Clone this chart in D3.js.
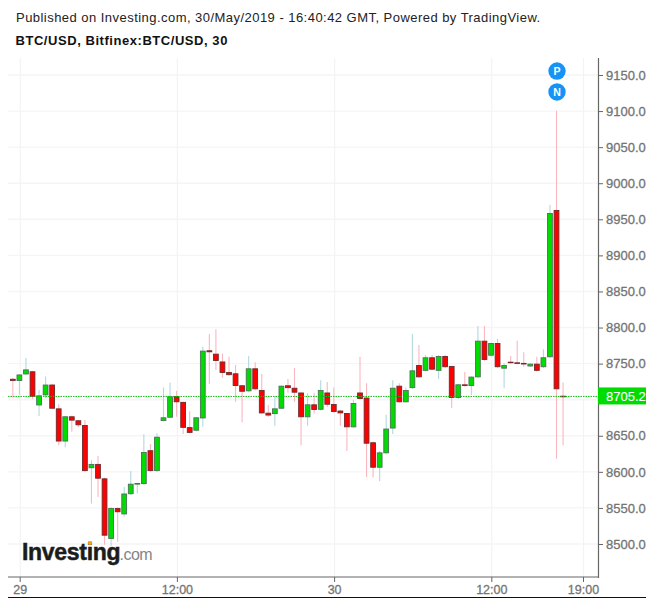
<!DOCTYPE html>
<html><head><meta charset="utf-8">
<script src="https://cdn.jsdelivr.net/npm/d3@7/dist/d3.min.js"></script>
<style>html,body{margin:0;padding:0;background:#fff}svg{display:block}text{font-family:"Liberation Sans",Arial,sans-serif}</style>
</head><body><svg id="c" width="653" height="603"></svg>
<script>
const titleLine = "Published on Investing.com, 30/May/2019 - 16:40:42 GMT, Powered by TradingView.";
const subtitleLine = "BTC/USD, Bitfinex:BTC/USD, 30";
const firstBar = -1; // half-hours after 00:00 on the 29th
const opens = [8729,8726,8735,8739.4,8692,8706,8721,8688,8642,8677,8671.5,8665,8605,8611,8591,8507,8550,8541,8569,8583,8583,8630,8601,8670.5,8675,8705,8697,8662,8657,8674,8768.5,8763.8,8753,8738.4,8736.6,8720,8711.6,8743.5,8713.4,8682,8680,8687.5,8720,8716.6,8710,8675.6,8693.6,8686,8710,8694,8685,8681.6,8661.7,8710,8703,8641,8605.7,8625.7,8660,8719.4,8696.4,8716,8748,8740,8758.8,8740,8760.6,8746.7,8702.4,8721.3,8719,8731,8781.8,8761,8778.6,8743,8752.7,8751.8,8751,8746,8750,8745,8758.8,8963,8705.5];
const highs = [8730,8735,8757.8,8740,8713.4,8732,8722,8694,8677,8678,8672,8672,8616,8622,8592,8551,8551,8579,8601,8585,8652,8638.6,8653.4,8717,8724,8712.5,8697,8684,8676,8773.5,8791,8797.6,8764,8759.6,8748,8720.5,8760.6,8752,8735.6,8692.6,8705,8720,8728.7,8744,8710,8709,8709,8727,8724.5,8717,8686,8682,8699.6,8759.6,8722.7,8642,8629,8679,8727,8722.7,8717,8791,8775.8,8762,8762,8762,8762,8747,8722,8738.4,8732,8802,8802,8779,8784,8751,8760.6,8781.8,8765.7,8750.5,8759.6,8770,8970,9100.5,8724];
const lows = [8702,8706.5,8734,8701,8677.4,8702,8687,8637,8634,8655.6,8662,8600,8556,8565,8499,8497,8503,8538,8568,8570,8582,8600,8600,8670,8675,8676.5,8652.5,8653,8656,8662.6,8721.8,8741,8730.5,8733,8697,8668.7,8711,8713,8680,8676,8664,8687,8709.7,8697,8637,8664,8681,8685,8690,8682,8664,8629,8661,8700,8593,8592,8587,8625,8652.5,8696,8696,8715,8730,8739,8741,8728.7,8744,8688.5,8701,8718,8706.5,8730,8754,8760,8744,8715.8,8750,8750,8745.7,8745,8739,8744,8758,8618,8637];
const closes = [8726,8735,8742,8704,8706,8721,8687.5,8642,8677,8671,8664.5,8601,8611,8590.5,8511.5,8550,8544,8570,8583.6,8584.5,8627.5,8601,8648.7,8675.6,8704.7,8696.4,8661,8654,8675.6,8768,8765.7,8753.6,8737,8734,8719,8711,8743.5,8714.4,8681,8678,8688,8719.4,8716,8709.7,8675.6,8693.6,8685.7,8713.4,8693,8683,8681,8661.7,8695.4,8701,8639,8605.7,8627,8660,8716.6,8696.4,8713.4,8740.7,8731,8758.8,8741.6,8760.6,8745,8702.4,8721.3,8719,8732,8781.8,8755,8778.6,8745,8748,8751,8750.4,8749,8750,8740,8758.8,8958.8,8714.4,8705.2];
const priceTicks = [8500,8550,8600,8650,8700,8750,8800,8850,8900,8950,9000,9050,9100,9150];
const labelledPrices = [8500,8550,8600,8650,8750,8800,8850,8900,8950,9000,9050,9100,9150]; // the 8700 label sits under the last-price tag
const timeTicks = [0,24,48,72,86];
const timeLabels = ["29","12:00","30","12:00","19:00"];
const lastPrice = 8705.2;
const eventFlags = ["P","N"];

const svg = d3.select("#c");
const left = 8, right = 598, top_ = 58, bottom = 577;
const x = d3.scaleLinear().domain([0,72]).range([19.4,491]);
const y = d3.scaleLinear().domain([8500,9150]).range([544,75]);
const gridX = t => x(t)+0.8;

svg.append("text").attr("x",16).attr("y",22).attr("font-size",13).attr("letter-spacing",0.46).attr("fill","#222").text(titleLine);
svg.append("text").attr("x",15.5).attr("y",45).attr("font-size",13).attr("font-weight","bold").attr("letter-spacing",0.55).attr("fill","#111").text(subtitleLine);

// grid
const g = svg.append("g");
g.selectAll(".hg").data(priceTicks).enter().append("line")
 .attr("x1",left).attr("x2",right).attr("y1",d=>y(d)).attr("y2",d=>y(d)).attr("stroke","#f5f5f5").attr("stroke-width",1.4);
g.selectAll(".vg").data(timeTicks).enter().append("line")
 .attr("x1",d=>gridX(d)).attr("x2",d=>gridX(d)).attr("y1",top_).attr("y2",bottom).attr("stroke","#f2f4f4").attr("stroke-width",1.2);

// candles
const bars = opens.map((o,i)=>({t:firstBar+i,o,h:highs[i],l:lows[i],c:closes[i],up:closes[i]>=o}));
const cg = svg.append("g");
cg.selectAll(".w").data(bars).enter().append("line")
 .attr("x1",d=>x(d.t)).attr("x2",d=>x(d.t)).attr("y1",d=>y(d.h)).attr("y2",d=>y(d.l))
 .attr("stroke",d=>d.up?"#b4d8e0":"#f9b7c0").attr("stroke-width",1.1);
cg.selectAll(".b").data(bars).enter().append("rect")
 .attr("x",d=>x(d.t)-2.4).attr("width",4.8)
 .attr("y",d=>y(Math.max(d.o,d.c))+0.5)
 .attr("height",d=>Math.max(0.6,Math.abs(y(d.o)-y(d.c))-1))
 .attr("fill",d=>d.up?"#00dc00":"#ff0000")
 .attr("stroke",d=>d.up?"#4a7355":"#6e2a2a").attr("stroke-width",0.9);

// logo, drawn over the candles
const logo = svg.append("g");
logo.append("text").attr("x",22).attr("y",559.5).attr("font-size",23).attr("font-weight","bold").attr("letter-spacing",-0.3).attr("fill","#1c1c1c").attr("stroke","#1c1c1c").attr("stroke-width",0.5).text("Investing");
logo.append("text").attr("x",119.5).attr("y",559.5).attr("font-size",16).attr("letter-spacing",-0.5).attr("fill","#858585").text(".com");
logo.append("circle").attr("cx",90).attr("cy",543).attr("r",2).attr("fill","#f8a51c");

// price line
svg.append("line").attr("x1",left).attr("x2",right).attr("y1",y(lastPrice)+0.5).attr("y2",y(lastPrice)+0.5)
 .attr("stroke","#0fbf0f").attr("stroke-width",1).attr("stroke-dasharray","1.5 1");

// axes
const axisCol = "#666";
svg.append("line").attr("x1",right+0.5).attr("x2",right+0.5).attr("y1",top_).attr("y2",bottom+1).attr("stroke",axisCol).attr("stroke-width",1.2);
svg.append("line").attr("x1",left).attr("x2",right+1).attr("y1",bottom).attr("y2",bottom).attr("stroke",axisCol).attr("stroke-width",1.2);
const yAxis = d3.axisRight(y).tickValues(labelledPrices).tickSize(5).tickFormat(d3.format(".1f"));
const ya = svg.append("g").attr("transform",`translate(${right},0)`).call(yAxis);
ya.select(".domain").remove();
ya.selectAll("line").attr("stroke",axisCol);
ya.selectAll("text").attr("x",8).attr("font-size",13).attr("font-family","Liberation Sans").attr("fill","#747474").attr("stroke","#747474").attr("stroke-width",0.3);
const xa = svg.append("g").attr("transform",`translate(0,${bottom})`);
xa.selectAll("line").data(timeTicks).enter().append("line").attr("x1",d=>gridX(d)).attr("x2",d=>gridX(d)).attr("y1",0).attr("y2",5).attr("stroke",axisCol);
xa.selectAll("text").data(timeTicks).enter().append("text").attr("x",d=>gridX(d)).attr("y",16.5).attr("text-anchor","middle")
 .attr("font-size",12.5).attr("fill","#747474").attr("stroke","#747474").attr("stroke-width",0.3).text((d,i)=>timeLabels[i]);
svg.append("line").attr("x1",left).attr("x2",646).attr("y1",597.5).attr("y2",597.5).attr("stroke","#111").attr("stroke-width",1);

// last price tag
const ly = y(lastPrice);
svg.append("rect").attr("x",right).attr("y",ly-8.5).attr("width",48).attr("height",17).attr("fill","#00dc00");
svg.append("text").attr("x",right+8).attr("y",ly+4.8).attr("font-size",13).attr("fill","#fff").attr("stroke","#fff").attr("stroke-width",0.1).text(d3.format(".1f")(lastPrice));

// event flags, stacked above the spike bar
const flagBar = bars[bars.length-2];
const flagY = d3.scaleOrdinal().domain(eventFlags).range([9155.5,9126.5]);
const fg = svg.selectAll(".f").data(eventFlags).enter().append("g");
fg.append("circle").attr("cx",x(flagBar.t)+0.5).attr("cy",d=>y(flagY(d))).attr("r",8.7).attr("fill","#1593f6");
fg.append("text").attr("x",x(flagBar.t)+0.5).attr("y",d=>y(flagY(d))+3.8).attr("text-anchor","middle").attr("font-size",10.5).attr("font-weight","bold").attr("fill","#fff").text(d=>d);
</script></body></html>
